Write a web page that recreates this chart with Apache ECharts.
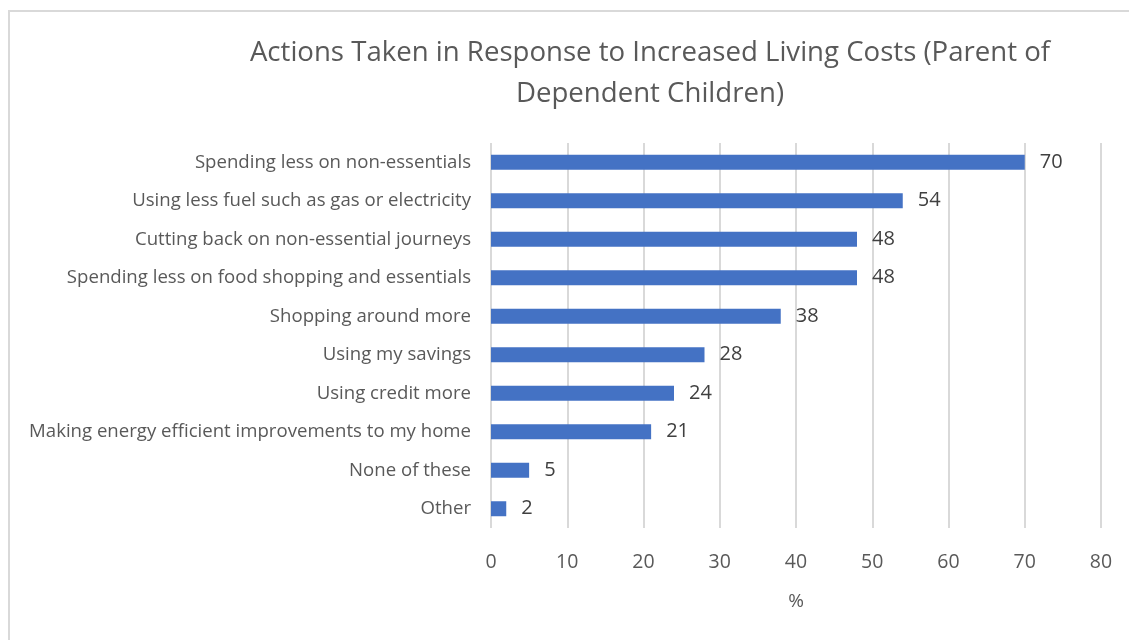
<!DOCTYPE html>
<html>
<head>
<meta charset="utf-8">
<script src="https://cdn.jsdelivr.net/npm/echarts@6/dist/echarts.min.js"></script>
<style>
  html, body { margin: 0; padding: 0; background: #fff; }
  #frame { position: absolute; left: 8px; top: 10px; width: 1130px; height: 640px; border: 2px solid #d9d9d9; box-sizing: border-box; }
  #chart { position: absolute; left: 0; top: 0; width: 1129px; height: 640px; }
</style>
</head>
<body>
<div id="frame"></div>
<div id="chart"></div>
<script>
// Survey answers, in the order shown top to bottom
const categories = [
  'Spending less on non-essentials',
  'Using less fuel such as gas or electricity',
  'Cutting back on non-essential journeys',
  'Spending less on food shopping and essentials',
  'Shopping around more',
  'Using my savings',
  'Using credit more',
  'Making energy efficient improvements to my home',
  'None of these',
  'Other'
];
const percentValues = [70, 54, 48, 48, 38, 28, 24, 21, 5, 2];
const axisTicks = [0, 10, 20, 30, 40, 50, 60, 70, 80];

const FONT = "'Open Sans', 'Liberation Sans', sans-serif";

const chart = echarts.init(document.getElementById('chart'), null, { renderer: 'canvas' });
chart.setOption({
  backgroundColor: 'transparent',
  animation: false,
  title: {
    text: 'Actions Taken in Response to Increased Living Costs (Parent of\nDependent Children)',
    left: 645,
    top: 28,
    textAlign: 'center',
    textStyle: { fontFamily: FONT, fontSize: 27.6, fontWeight: 'normal', color: '#595959', lineHeight: 41 }
  },
  grid: { left: 491, right: 28, top: 143, bottom: 112, containLabel: false },
  xAxis: {
    type: 'value',
    min: axisTicks[0],
    max: axisTicks[axisTicks.length - 1],
    interval: 10,
    name: '%',
    nameLocation: 'middle',
    nameGap: 64,
    nameTextStyle: { fontFamily: FONT, fontSize: 19, color: '#595959' },
    axisLine: { show: false },
    axisTick: { show: false },
    axisLabel: { margin: 24, fontFamily: FONT, fontSize: 19.5, color: '#595959' },
    splitLine: { show: true, lineStyle: { color: '#d9d9d9', width: 2 } }
  },
  yAxis: {
    type: 'category',
    data: categories,
    inverse: true,
    axisLine: { show: false },
    axisTick: { show: false },
    axisLabel: { margin: 20, fontFamily: FONT, fontSize: 18.6, color: '#595959' }
  },
  series: [{
    type: 'bar',
    data: percentValues,
    barWidth: 15,
    itemStyle: { color: '#4472C4' },
    label: {
      show: true,
      position: 'right',
      distance: 15,
      fontFamily: FONT,
      fontSize: 20,
      color: '#404040'
    }
  }]
});
</script>
</body>
</html>
